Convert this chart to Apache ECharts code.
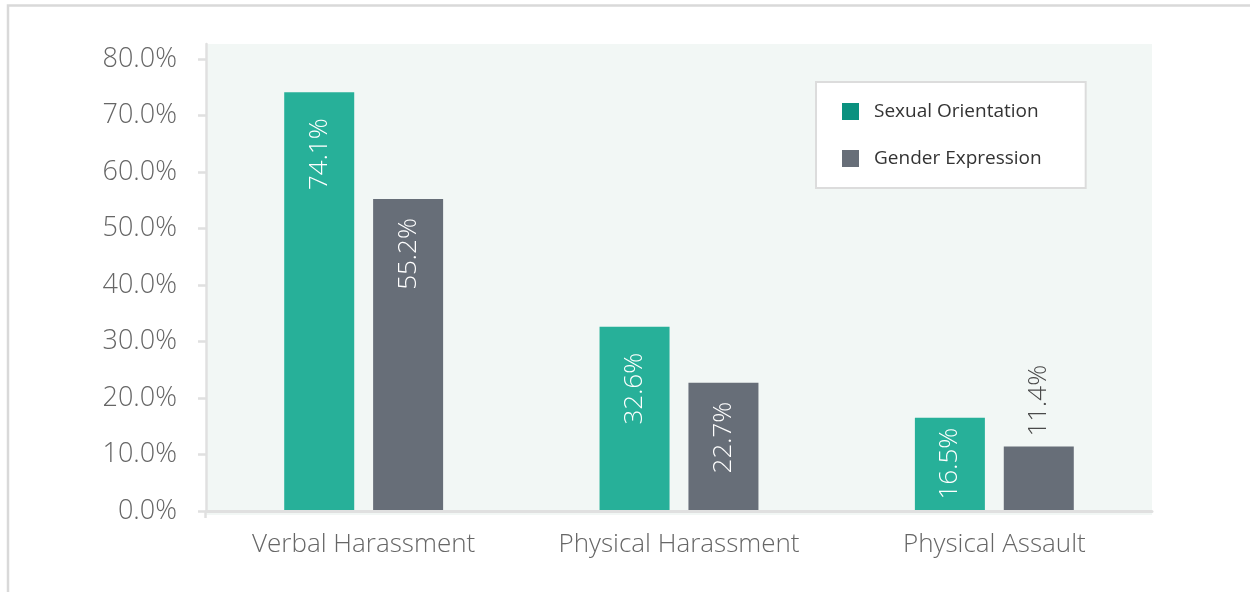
<!DOCTYPE html>
<html>
<head>
<meta charset="utf-8">
<style>
  html, body { margin: 0; padding: 0; background: #ffffff; }
  #chart { width: 1250px; height: 592px; }
</style>
<script src="https://cdn.jsdelivr.net/npm/echarts@6/dist/echarts.min.js"></script>
</head>
<body>
<div id="chart"></div>
<script>
// Share of respondents reporting each type of victimization, by reason
const categories = ['Verbal Harassment', 'Physical Harassment', 'Physical Assault'];
const seriesNames = ['Sexual Orientation', 'Gender Expression'];
const sexualOrientation = [74.1, 32.6, 16.5];
const genderExpression = [55.2, 22.7, 11.4];
const yTicks = [0, 10, 20, 30, 40, 50, 60, 70, 80];

const GREEN = '#27b099';
const GREEN_KEY = '#0a917f';
const GREY = '#676e78';
const FONT = '"Open Sans", Roboto, sans-serif';

const chart = echarts.init(document.getElementById('chart'), null, { renderer: 'canvas' });

// plot band runs a little above the 80% tick
const yMax = 80 * (511 - 44) / (511 - 59);

function pct(v) { return v.toFixed(1) + '%'; }

// labels read bottom-to-top, tucked under the bar top; short bars carry them above
function barData(values, inset) {
  return values.map(function (v) {
    if (v < 15) {
      return {
        value: v,
        label: {
          position: 'top', align: 'left', verticalAlign: 'middle',
          distance: 10, color: '#4a4a4a'
        }
      };
    }
    if (v < 20) {
      return { value: v, label: { distance: 10 } };
    }
    return { value: v, label: { distance: inset } };
  });
}

const barLabel = {
  show: true,
  position: 'insideTop',
  rotate: 90,
  align: 'right',
  verticalAlign: 'middle',
  color: '#ffffff',
  fontFamily: FONT,
  fontSize: 26,
  fontWeight: 300,
  formatter: function (p) { return pct(p.value); }
};

chart.setOption({
  animation: false,
  backgroundColor: '#ffffff',
  graphic: [
    {
      type: 'rect',
      silent: true,
      z: -10,
      shape: { x: 206, y: 44, width: 946, height: 471 },
      style: { fill: '#f2f7f5' }
    },
    {
      type: 'polyline',
      silent: true,
      shape: { points: [[8, 592], [8, 5.5], [1250, 5.5]] },
      style: { stroke: '#d9d9d9', lineWidth: 2.5, fill: null }
    },
    {
      type: 'line',
      silent: true,
      z: 5,
      shape: { x1: 205.5, y1: 511, x2: 205.5, y2: 518 },
      style: { stroke: '#e0e0e0', lineWidth: 2.5 }
    }
  ],
  grid: { left: 206, right: 98, top: 44, bottom: 81, containLabel: false },
  legend: {
    orient: 'vertical',
    left: 816,
    top: 82,
    padding: [20, 44, 20, 26],
    itemGap: 28,
    itemWidth: 17,
    itemHeight: 17,
    icon: 'rect',
    backgroundColor: '#ffffff',
    borderColor: '#dcdcdc',
    borderWidth: 2,
    borderRadius: 0,
    textStyle: { fontFamily: FONT, fontSize: 19, color: '#333333', padding: [0, 0, 0, 10] },
    data: [
      { name: seriesNames[0], itemStyle: { color: GREEN_KEY } },
      { name: seriesNames[1], itemStyle: { color: GREY } }
    ]
  },
  xAxis: {
    type: 'category',
    data: categories,
    axisLine: { show: true, lineStyle: { color: '#e0e0e0', width: 3 } },
    axisTick: { show: false },
    axisLabel: {
      margin: 21,
      fontFamily: FONT,
      fontSize: 26,
      fontWeight: 300,
      color: '#666666'
    },
    z: 3
  },
  yAxis: {
    type: 'value',
    min: 0,
    max: yMax,
    axisLine: { show: true, lineStyle: { color: '#e0e0e0', width: 2.5 } },
    axisTick: {
      show: true,
      length: 8,
      customValues: yTicks,
      lineStyle: { color: '#e0e0e0', width: 2.5 }
    },
    splitLine: { show: false },
    axisLabel: {
      customValues: yTicks,
      margin: 29,
      fontFamily: FONT,
      fontSize: 27,
      fontWeight: 300,
      color: '#666666',
      formatter: function (v) { return pct(v); }
    }
  },
  series: [
    {
      name: seriesNames[0],
      type: 'bar',
      barWidth: 70,
      barGap: '27%',
      itemStyle: { color: GREEN },
      label: barLabel,
      data: barData(sexualOrientation, 26)
    },
    {
      name: seriesNames[1],
      type: 'bar',
      barWidth: 70,
      barGap: '27%',
      itemStyle: { color: GREY },
      label: barLabel,
      data: barData(genderExpression, 19)
    }
  ]
});
</script>
</body>
</html>
